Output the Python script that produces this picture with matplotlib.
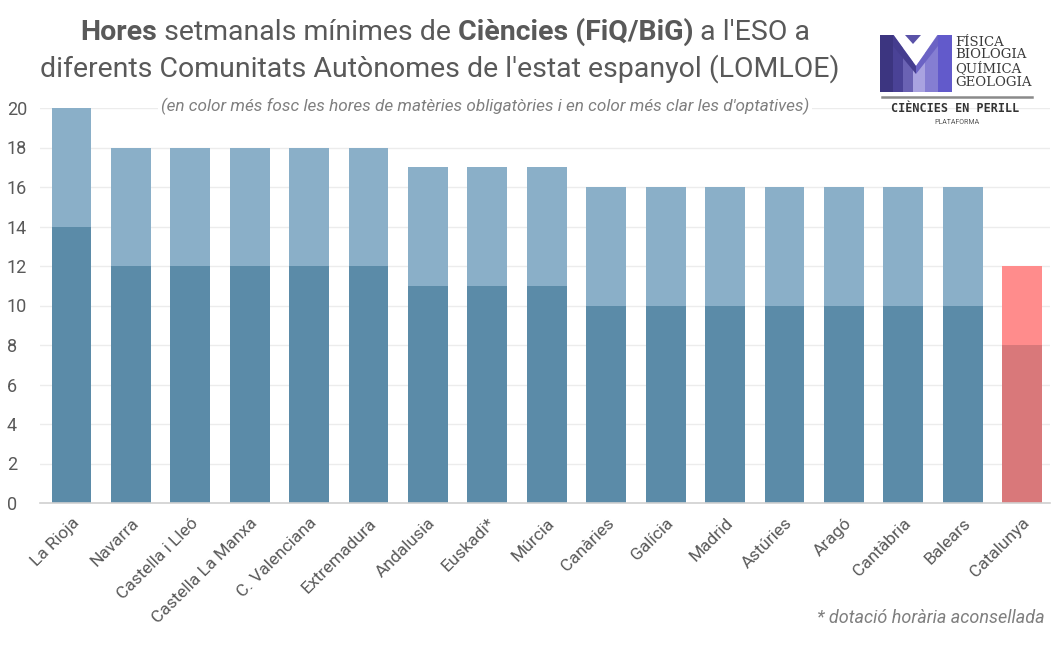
import matplotlib
matplotlib.use("Agg")
import matplotlib.pyplot as plt
from matplotlib.patches import Polygon, Rectangle

regions = ["La Rioja", "Navarra", "Castella i Lleó", "Castella La Manxa", "C. Valenciana",
           "Extremadura", "Andalusia", "Euskadi*", "Múrcia", "Canàries", "Galícia", "Madrid",
           "Astúries", "Aragó", "Cantàbria", "Balears", "Catalunya"]
obligatory = [14, 12, 12, 12, 12, 12, 11, 11, 11, 10, 10, 10, 10, 10, 10, 10, 8]
total = [20, 18, 18, 18, 18, 18, 17, 17, 17, 16, 16, 16, 16, 16, 16, 16, 12]
yticks = [0, 2, 4, 6, 8, 10, 12, 14, 16, 18, 20]

plt.rcParams['font.family'] = ['Roboto', 'DejaVu Sans']

W, H = 1062, 659
fig = plt.figure(figsize=(W / 100, H / 100), dpi=100)
ax = fig.add_axes([40 / W, 1 - 503 / H, (1050 - 40) / W, (503 - 108) / H])

dark_blue, light_blue = "#5b8ba8", "#8aafc8"
dark_red, light_red = "#d9787a", "#ff8c8c"
x = list(range(len(regions)))
opt = [t - o for t, o in zip(total, obligatory)]
dark_cols = [dark_red if r == "Catalunya" else dark_blue for r in regions]
light_cols = [light_red if r == "Catalunya" else light_blue for r in regions]
ax.bar(x, obligatory, width=0.67, color=dark_cols, zorder=3)
ax.bar(x, opt, bottom=obligatory, width=0.67, color=light_cols, zorder=3)

ax.set_ylim(0, 20)
ax.set_xlim(-0.53, 16.47)
ax.set_yticks(yticks)
ax.set_yticklabels([str(v) for v in yticks], fontsize=13, color="#595959")
ax.yaxis.grid(True, color="#ececec", linewidth=1, zorder=0)
ax.set_xticks(x)
ax.set_xticklabels(regions, rotation=45, ha="right", rotation_mode="anchor",
                   fontsize=12.5, color="#595959")
ax.tick_params(axis="both", length=0, pad=6)
ax.tick_params(axis="y", pad=12)
ax.tick_params(axis="x", pad=9)
for lab in ax.get_yticklabels():
    lab.set_horizontalalignment("left")
ax.yaxis.set_tick_params(pad=0)
for lab in ax.get_yticklabels():
    lab.set_x(-33 / 1010)
for s in ["top", "right", "left"]:
    ax.spines[s].set_visible(False)
ax.spines["bottom"].set_color("#d0d0d0")
ax.spines["bottom"].set_linewidth(1.2)
ax.spines["bottom"].set_zorder(4)

# Title with mixed weights
fig.canvas.draw()
renderer = fig.canvas.get_renderer()
def rich_line(parts, cx, cy, size, color="#595959"):
    texts = []
    widths = []
    for s, w in parts:
        t = fig.text(0, 0, s, fontsize=size, fontweight=w, color=color, va="center", ha="left")
        bb = t.get_window_extent(renderer)
        texts.append(t)
        widths.append(bb.width)
    total_w = sum(widths)
    xpos = cx - total_w / 2
    for t, w in zip(texts, widths):
        t.set_position((xpos / W, 1 - cy / H))
        xpos += w

rich_line([("Hores", "bold"), (" setmanals mínimes de ", "normal"),
           ("Ciències (FiQ/BiG)", "bold"), (" a l'ESO a", "normal")], 445, 32, 20.5)
rich_line([("diferents Comunitats Autònomes de l'estat espanyol (LOMLOE)", "normal")], 440, 69, 20.5)

fig.text(485 / W, 1 - 106 / H,
         "(en color més fosc les hores de matèries obligatòries i en color més clar les d'optatives)",
         fontsize=12.3, style="italic", color="#7f7f7f", ha="center", va="center",
         bbox=dict(facecolor="white", edgecolor="none", pad=2))

fig.text(1045 / W, 1 - 618 / H, "* dotació horària aconsellada", fontsize=13,
         style="italic", color="#7f7f7f", ha="right", va="center")

# Logo (pixel coordinates)
lax = fig.add_axes([870 / W, 1 - 135 / H, 175 / W, 110 / H])
lax.set_xlim(870, 1045)
lax.set_ylim(135, 25)
lax.axis("off")
top, bot = 35, 92
lax.add_patch(Rectangle((880, top), 13, bot - top, color="#3c3580", lw=0))
bar_specs = [(893, 903, "#4a4296"), (903, 913, "#6a62b3"), (913, 925, "#a9a3e0"),
             (925, 938, "#857ed2"), (938, 952, "#625acb")]
for x0, x1, c in bar_specs:
    lax.add_patch(Rectangle((x0, top), x1 - x0, bot - top, color=c, lw=0))
lax.add_patch(Polygon([(893, top - 1), (938, top - 1), (916, 66)], color="white", lw=0))
lax.add_patch(Polygon([(893, top), (916, 66), (916, 74), (893, 46)], color="#453d8f", lw=0))
lax.add_patch(Polygon([(938, top), (916, 66), (916, 74), (938, 46)], color="#6b63c4", lw=0))
lax.add_patch(Polygon([(905, top), (921, top), (913, 44)], color="#5a52a8", lw=0))
for s, yy in zip(["FÍSICA", "BIOLOGIA", "QUÍMICA", "GEOLOGIA"], [42, 55, 68, 82]):
    lax.text(955, yy, s, fontsize=9.5, family="DejaVu Serif", color="#3a3a3a", va="center")
lax.plot([882, 1032], [97, 97], color="#8a8a8a", lw=1.8)
lax.text(955, 109, "CIÈNCIES EN PERILL", fontsize=8.5, family="DejaVu Sans Mono", fontweight="bold",
         color="#333333", ha="center", va="center")
lax.text(957, 122, "PLATAFORMA", fontsize=5, color="#555555", ha="center", va="center")

fig.savefig("out.png", dpi=100, facecolor="white")
